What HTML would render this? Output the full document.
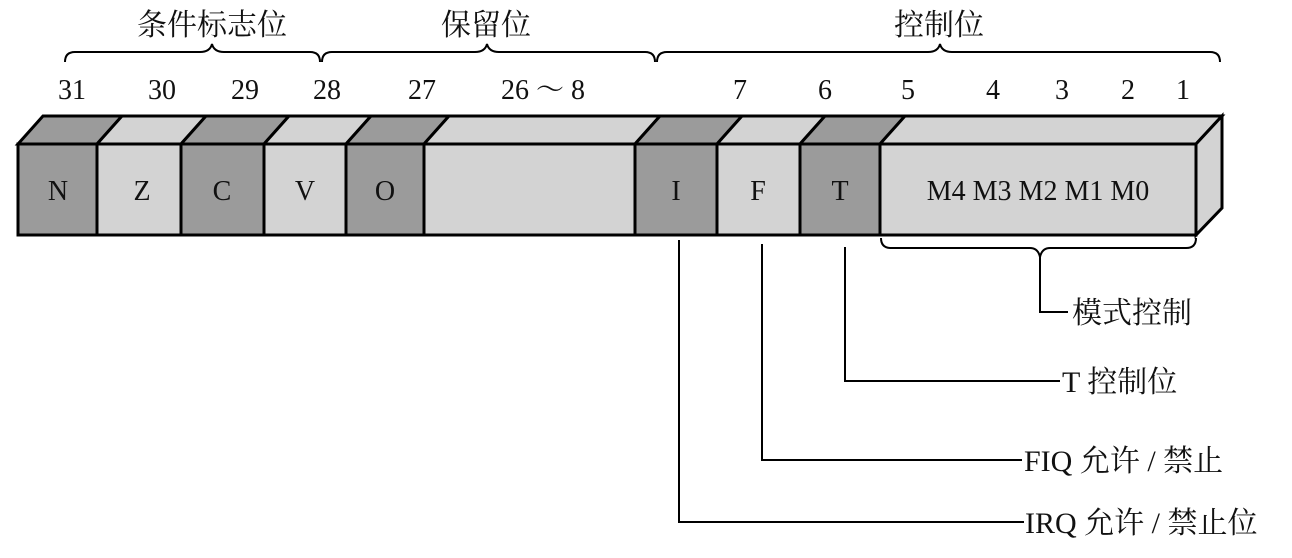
<!DOCTYPE html>
<html><head><meta charset="utf-8"><style>
html,body{margin:0;padding:0;background:#fff;}
svg text{font-family:"Liberation Serif","Noto Serif CJK SC",serif;font-size:28px;fill:#111;}
svg text.c{font-size:30px;}
</style></head><body>
<svg width="1292" height="553" viewBox="0 0 1292 553" xmlns="http://www.w3.org/2000/svg">
<g stroke="#000" stroke-width="3" stroke-linejoin="miter">
<polygon points="18,144 43,116 122,116 97,144" fill="#9b9b9b"/>
<polygon points="97,144 122,116 206,116 181,144" fill="#d3d3d3"/>
<polygon points="181,144 206,116 289,116 264,144" fill="#9b9b9b"/>
<polygon points="264,144 289,116 371,116 346,144" fill="#d3d3d3"/>
<polygon points="346,144 371,116 449,116 424,144" fill="#9b9b9b"/>
<polygon points="424,144 449,116 660,116 635,144" fill="#d3d3d3"/>
<polygon points="635,144 660,116 742,116 717,144" fill="#9b9b9b"/>
<polygon points="717,144 742,116 825,116 800,144" fill="#d3d3d3"/>
<polygon points="800,144 825,116 905,116 880,144" fill="#9b9b9b"/>
<polygon points="880,144 905,116 1222,116 1196,144" fill="#d3d3d3"/>
<polygon points="1196,144 1222,116 1222,208 1196,235" fill="#d3d3d3"/>
<rect x="18" y="144" width="79" height="91" fill="#9b9b9b"/>
<rect x="97" y="144" width="84" height="91" fill="#d3d3d3"/>
<rect x="181" y="144" width="83" height="91" fill="#9b9b9b"/>
<rect x="264" y="144" width="82" height="91" fill="#d3d3d3"/>
<rect x="346" y="144" width="78" height="91" fill="#9b9b9b"/>
<rect x="424" y="144" width="211" height="91" fill="#d3d3d3"/>
<rect x="635" y="144" width="82" height="91" fill="#9b9b9b"/>
<rect x="717" y="144" width="83" height="91" fill="#d3d3d3"/>
<rect x="800" y="144" width="80" height="91" fill="#9b9b9b"/>
<rect x="880" y="144" width="316" height="91" fill="#d3d3d3"/>
</g>
<g fill="none" stroke="#000" stroke-width="2">
<path d="M65,62 Q65,52 75,52 L200,52 Q210,52 212,44 Q214,52 224,52 L310,52 Q320,52 320,62"/>
<path d="M322,62 Q322,52 332,52 L475,52 Q485,52 487,44 Q489,52 499,52 L645,52 Q655,52 655,62"/>
<path d="M657,62 Q657,52 667,52 L928,52 Q938,52 940,44 Q942,52 952,52 L1210,52 Q1220,52 1220,62"/>
<path d="M881,238 Q881,248 891,248 L1030,248 Q1038,248 1040,257 Q1042,248 1050,248 L1186,248 Q1196,248 1196,238"/>
<path d="M1040,257 L1040,312 L1068,312"/>
<path d="M845,247 L845,381 L1060,381"/>
<path d="M762,244 L762,460 L1022,460"/>
<path d="M679,240 L679,522 L1024,522"/>
</g>
<g text-anchor="middle">
<text x="58" y="200">N</text>
<text x="142" y="200">Z</text>
<text x="222" y="200">C</text>
<text x="305" y="200">V</text>
<text x="385" y="200">O</text>
<text x="676" y="200">I</text>
<text x="758" y="200">F</text>
<text x="840" y="200">T</text>
<text x="1038" y="200">M4 M3 M2 M1 M0</text>
<text x="72" y="99">31</text>
<text x="162" y="99">30</text>
<text x="245" y="99">29</text>
<text x="327" y="99">28</text>
<text x="422" y="99">27</text>
<text x="543" y="99">26 ～ 8</text>
<text x="740" y="99">7</text>
<text x="825" y="99">6</text>
<text x="908" y="99">5</text>
<text x="993" y="99">4</text>
<text x="1062" y="99">3</text>
<text x="1128" y="99">2</text>
<text x="1183" y="99">1</text>
<text class="c" x="212" y="35">条件标志位</text>
<text class="c" x="486" y="35">保留位</text>
<text class="c" x="939" y="35">控制位</text>
</g>
<text class="c" x="1072" y="323">模式控制</text>
<text class="c" x="1062" y="392">T 控制位</text>
<text class="c" x="1024" y="471">FIQ 允许 / 禁止</text>
<text class="c" x="1025" y="533">IRQ 允许 / 禁止位</text>
</svg>
</body></html>
